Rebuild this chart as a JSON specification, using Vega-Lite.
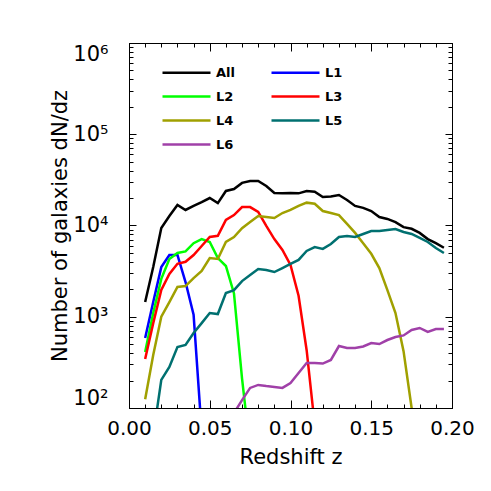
{
  "$schema": "https://vega.github.io/schema/vega-lite/v6.json",
  "width": 323,
  "height": 365,
  "autosize": {"type": "none"},
  "padding": {"left": 129, "top": 43, "right": 39, "bottom": 83},
  "background": "white",
  "config": {
    "view": {"stroke": "black", "strokeWidth": 1},
    "axis": {"grid": false, "domainColor": "black", "tickColor": "black", "labelColor": "black", "titleColor": "black", "labelFont": "DejaVu Sans", "titleFont": "DejaVu Sans", "titleFontWeight": "normal", "tickWidth": 1}
  },
  "datasets": {
    "d": [
      {"s": "All", "z": 0.010, "n": 1450}, {"s": "All", "z": 0.015, "n": 3500}, {"s": "All", "z": 0.020, "n": 9400}, {"s": "All", "z": 0.025, "n": 12700},
      {"s": "All", "z": 0.030, "n": 16800}, {"s": "All", "z": 0.035, "n": 14800}, {"s": "All", "z": 0.040, "n": 16400}, {"s": "All", "z": 0.045, "n": 18000},
      {"s": "All", "z": 0.050, "n": 20000}, {"s": "All", "z": 0.055, "n": 17600}, {"s": "All", "z": 0.060, "n": 23900}, {"s": "All", "z": 0.065, "n": 25100},
      {"s": "All", "z": 0.070, "n": 29300}, {"s": "All", "z": 0.075, "n": 30700}, {"s": "All", "z": 0.080, "n": 30700}, {"s": "All", "z": 0.085, "n": 27100},
      {"s": "All", "z": 0.090, "n": 22700}, {"s": "All", "z": 0.095, "n": 22500}, {"s": "All", "z": 0.100, "n": 22700}, {"s": "All", "z": 0.105, "n": 22500},
      {"s": "All", "z": 0.110, "n": 23900}, {"s": "All", "z": 0.115, "n": 23500}, {"s": "All", "z": 0.120, "n": 20500}, {"s": "All", "z": 0.125, "n": 20800},
      {"s": "All", "z": 0.130, "n": 21600}, {"s": "All", "z": 0.135, "n": 19000}, {"s": "All", "z": 0.140, "n": 16400}, {"s": "All", "z": 0.145, "n": 15600},
      {"s": "All", "z": 0.150, "n": 14400}, {"s": "All", "z": 0.155, "n": 12400}, {"s": "All", "z": 0.160, "n": 11800}, {"s": "All", "z": 0.165, "n": 10900},
      {"s": "All", "z": 0.170, "n": 9600}, {"s": "All", "z": 0.175, "n": 9200}, {"s": "All", "z": 0.180, "n": 8300}, {"s": "All", "z": 0.185, "n": 7100},
      {"s": "All", "z": 0.190, "n": 6400}, {"s": "All", "z": 0.195, "n": 5700},

      {"s": "L1", "z": 0.010, "n": 585}, {"s": "L1", "z": 0.015, "n": 1450}, {"s": "L1", "z": 0.020, "n": 3500}, {"s": "L1", "z": 0.025, "n": 4750},
      {"s": "L1", "z": 0.030, "n": 4750}, {"s": "L1", "z": 0.035, "n": 2400}, {"s": "L1", "z": 0.040, "n": 1050}, {"s": "L1", "z": 0.045, "n": 55},

      {"s": "L2", "z": 0.010, "n": 410}, {"s": "L2", "z": 0.015, "n": 1100}, {"s": "L2", "z": 0.020, "n": 2600}, {"s": "L2", "z": 0.025, "n": 4300},
      {"s": "L2", "z": 0.030, "n": 5000}, {"s": "L2", "z": 0.035, "n": 5200}, {"s": "L2", "z": 0.040, "n": 6400}, {"s": "L2", "z": 0.045, "n": 7100},
      {"s": "L2", "z": 0.050, "n": 6600}, {"s": "L2", "z": 0.055, "n": 4400}, {"s": "L2", "z": 0.060, "n": 3600}, {"s": "L2", "z": 0.065, "n": 1800},
      {"s": "L2", "z": 0.070, "n": 210}, {"s": "L2", "z": 0.075, "n": 35},

      {"s": "L3", "z": 0.010, "n": 344}, {"s": "L3", "z": 0.015, "n": 850}, {"s": "L3", "z": 0.020, "n": 1970}, {"s": "L3", "z": 0.025, "n": 2940},
      {"s": "L3", "z": 0.030, "n": 3800}, {"s": "L3", "z": 0.035, "n": 4000}, {"s": "L3", "z": 0.040, "n": 4750}, {"s": "L3", "z": 0.045, "n": 5960},
      {"s": "L3", "z": 0.050, "n": 7480}, {"s": "L3", "z": 0.055, "n": 7700}, {"s": "L3", "z": 0.060, "n": 11500}, {"s": "L3", "z": 0.065, "n": 13000},
      {"s": "L3", "z": 0.070, "n": 15900}, {"s": "L3", "z": 0.075, "n": 15900}, {"s": "L3", "z": 0.080, "n": 14100}, {"s": "L3", "z": 0.085, "n": 9900},
      {"s": "L3", "z": 0.090, "n": 7100}, {"s": "L3", "z": 0.095, "n": 5400}, {"s": "L3", "z": 0.100, "n": 3700}, {"s": "L3", "z": 0.105, "n": 1700},
      {"s": "L3", "z": 0.110, "n": 430}, {"s": "L3", "z": 0.115, "n": 65},

      {"s": "L4", "z": 0.010, "n": 125}, {"s": "L4", "z": 0.015, "n": 380}, {"s": "L4", "z": 0.020, "n": 1000}, {"s": "L4", "z": 0.025, "n": 1450},
      {"s": "L4", "z": 0.030, "n": 2120}, {"s": "L4", "z": 0.035, "n": 2170}, {"s": "L4", "z": 0.040, "n": 2650}, {"s": "L4", "z": 0.045, "n": 3170},
      {"s": "L4", "z": 0.050, "n": 4400}, {"s": "L4", "z": 0.055, "n": 4300}, {"s": "L4", "z": 0.060, "n": 6600}, {"s": "L4", "z": 0.065, "n": 7480},
      {"s": "L4", "z": 0.070, "n": 9350}, {"s": "L4", "z": 0.075, "n": 10900}, {"s": "L4", "z": 0.080, "n": 12700}, {"s": "L4", "z": 0.085, "n": 12400},
      {"s": "L4", "z": 0.090, "n": 12100}, {"s": "L4", "z": 0.095, "n": 13700}, {"s": "L4", "z": 0.100, "n": 14800}, {"s": "L4", "z": 0.105, "n": 16400},
      {"s": "L4", "z": 0.110, "n": 17800}, {"s": "L4", "z": 0.115, "n": 17300}, {"s": "L4", "z": 0.120, "n": 14400}, {"s": "L4", "z": 0.125, "n": 13700},
      {"s": "L4", "z": 0.130, "n": 13000}, {"s": "L4", "z": 0.135, "n": 10400}, {"s": "L4", "z": 0.140, "n": 8300}, {"s": "L4", "z": 0.145, "n": 6400},
      {"s": "L4", "z": 0.150, "n": 4900}, {"s": "L4", "z": 0.155, "n": 3420}, {"s": "L4", "z": 0.160, "n": 1960}, {"s": "L4", "z": 0.165, "n": 1100},
      {"s": "L4", "z": 0.170, "n": 420}, {"s": "L4", "z": 0.175, "n": 100}, {"s": "L4", "z": 0.180, "n": 20},

      {"s": "L5", "z": 0.015, "n": 50}, {"s": "L5", "z": 0.020, "n": 203}, {"s": "L5", "z": 0.025, "n": 282}, {"s": "L5", "z": 0.030, "n": 466},
      {"s": "L5", "z": 0.035, "n": 490}, {"s": "L5", "z": 0.040, "n": 663}, {"s": "L5", "z": 0.045, "n": 852}, {"s": "L5", "z": 0.050, "n": 1100},
      {"s": "L5", "z": 0.055, "n": 1070}, {"s": "L5", "z": 0.060, "n": 1820}, {"s": "L5", "z": 0.065, "n": 1960}, {"s": "L5", "z": 0.070, "n": 2460},
      {"s": "L5", "z": 0.075, "n": 2860}, {"s": "L5", "z": 0.080, "n": 3330}, {"s": "L5", "z": 0.085, "n": 3250}, {"s": "L5", "z": 0.090, "n": 3090},
      {"s": "L5", "z": 0.095, "n": 3420}, {"s": "L5", "z": 0.100, "n": 3790}, {"s": "L5", "z": 0.105, "n": 4200}, {"s": "L5", "z": 0.110, "n": 5260},
      {"s": "L5", "z": 0.115, "n": 5800}, {"s": "L5", "z": 0.120, "n": 5540}, {"s": "L5", "z": 0.125, "n": 6260}, {"s": "L5", "z": 0.130, "n": 7480},
      {"s": "L5", "z": 0.135, "n": 7670}, {"s": "L5", "z": 0.140, "n": 7480}, {"s": "L5", "z": 0.145, "n": 8070}, {"s": "L5", "z": 0.150, "n": 8700},
      {"s": "L5", "z": 0.155, "n": 8700}, {"s": "L5", "z": 0.160, "n": 8930}, {"s": "L5", "z": 0.165, "n": 9150}, {"s": "L5", "z": 0.170, "n": 8480},
      {"s": "L5", "z": 0.175, "n": 8070}, {"s": "L5", "z": 0.180, "n": 7300}, {"s": "L5", "z": 0.185, "n": 6600}, {"s": "L5", "z": 0.190, "n": 5670},
      {"s": "L5", "z": 0.195, "n": 5000},

      {"s": "L6", "z": 0.065, "n": 88}, {"s": "L6", "z": 0.070, "n": 122}, {"s": "L6", "z": 0.075, "n": 166}, {"s": "L6", "z": 0.080, "n": 179},
      {"s": "L6", "z": 0.085, "n": 174}, {"s": "L6", "z": 0.090, "n": 170}, {"s": "L6", "z": 0.095, "n": 166}, {"s": "L6", "z": 0.100, "n": 188},
      {"s": "L6", "z": 0.105, "n": 242}, {"s": "L6", "z": 0.110, "n": 311}, {"s": "L6", "z": 0.115, "n": 311}, {"s": "L6", "z": 0.120, "n": 307},
      {"s": "L6", "z": 0.125, "n": 336}, {"s": "L6", "z": 0.130, "n": 478}, {"s": "L6", "z": 0.135, "n": 455}, {"s": "L6", "z": 0.140, "n": 455},
      {"s": "L6", "z": 0.145, "n": 472}, {"s": "L6", "z": 0.150, "n": 515}, {"s": "L6", "z": 0.155, "n": 502}, {"s": "L6", "z": 0.160, "n": 556},
      {"s": "L6", "z": 0.165, "n": 600}, {"s": "L6", "z": 0.170, "n": 624}, {"s": "L6", "z": 0.175, "n": 716}, {"s": "L6", "z": 0.180, "n": 753},
      {"s": "L6", "z": 0.185, "n": 681}, {"s": "L6", "z": 0.190, "n": 733}, {"s": "L6", "z": 0.195, "n": 733}
    ]
  },
  "layer": [
    {
      "data": {"name": "d"},
      "mark": {"type": "line", "strokeWidth": 2.5, "clip": true},
      "encoding": {
        "x": {
          "field": "z", "type": "quantitative",
          "scale": {"domain": [0, 0.2], "nice": false, "zero": false},
          "axis": {"orient": "bottom", "values": [0, 0.05, 0.1, 0.15, 0.2], "format": ".2f", "tickSize": -8, "labelPadding": 18, "labelFontSize": 20, "labelFlush": false, "title": "Redshift  z", "titleFontSize": 21, "titlePadding": 8}
        },
        "y": {
          "field": "n", "type": "quantitative",
          "scale": {"type": "log", "domain": [100, 1000000], "nice": false},
          "axis": {"orient": "left", "values": [100, 1000, 10000, 100000, 1000000], "labelExpr": "'10' + ['⁰','¹','²','³','⁴','⁵','⁶'][round(log(datum.value)/LN10)]", "tickSize": -7, "labelPadding": 28, "labelFontSize": 21, "labelFlush": true, "title": "Number  of  galaxies  dN/dz", "titleFontSize": 21, "titlePadding": 2}
        },
        "color": {
          "field": "s", "type": "nominal",
          "scale": {"domain": ["All", "L1", "L2", "L3", "L4", "L5", "L6"], "range": ["#000000", "#0000ff", "#00ff00", "#ff0000", "#a0a000", "#007070", "#a040a8"]},
          "legend": {"orient": "none", "legendX": 48, "legendY": 20, "columns": 2, "direction": "horizontal", "title": null, "symbolType": "M-3,0H3", "symbolSize": 256, "symbolStrokeWidth": 2.5, "symbolFillColor": "transparent", "labelFont": "DejaVu Sans", "labelFontSize": 13, "labelFontWeight": "bold", "labelColor": "black", "labelOffset": 20, "columnPadding": 31, "rowPadding": 7, "padding": 0}
        }
      }
    },
    {
      "data": {"name": "d"},
      "mark": {"type": "line", "strokeOpacity": 0, "clip": true},
      "encoding": {
        "x": {"field": "z", "type": "quantitative", "axis": {"orient": "bottom", "values": [0.01, 0.02, 0.03, 0.04, 0.06, 0.07, 0.08, 0.09, 0.11, 0.12, 0.13, 0.14, 0.16, 0.17, 0.18, 0.19], "tickSize": -4, "labels": false, "domain": false, "title": null}},
        "y": {"field": "n", "type": "quantitative", "axis": {"orient": "left", "values": [200, 300, 400, 500, 600, 700, 800, 900, 2000, 3000, 4000, 5000, 6000, 7000, 8000, 9000, 20000, 30000, 40000, 50000, 60000, 70000, 80000, 90000, 200000, 300000, 400000, 500000, 600000, 700000, 800000, 900000], "tickSize": -4, "labels": false, "domain": false, "title": null}},
        "detail": {"field": "s"}
      }
    },
    {
      "data": {"name": "d"},
      "mark": {"type": "line", "strokeOpacity": 0, "clip": true},
      "encoding": {
        "x": {"field": "z", "type": "quantitative", "axis": {"orient": "top", "values": [0, 0.05, 0.1, 0.15, 0.2], "tickSize": -8, "labels": false, "title": null}},
        "y": {"field": "n", "type": "quantitative", "axis": {"orient": "right", "values": [100, 1000, 10000, 100000, 1000000], "tickSize": -7, "labels": false, "title": null}},
        "detail": {"field": "s"}
      }
    },
    {
      "data": {"name": "d"},
      "mark": {"type": "line", "strokeOpacity": 0, "clip": true},
      "encoding": {
        "x": {"field": "z", "type": "quantitative", "axis": {"orient": "top", "values": [0.01, 0.02, 0.03, 0.04, 0.06, 0.07, 0.08, 0.09, 0.11, 0.12, 0.13, 0.14, 0.16, 0.17, 0.18, 0.19], "tickSize": -4, "labels": false, "domain": false, "title": null}},
        "y": {"field": "n", "type": "quantitative", "axis": {"orient": "right", "values": [200, 300, 400, 500, 600, 700, 800, 900, 2000, 3000, 4000, 5000, 6000, 7000, 8000, 9000, 20000, 30000, 40000, 50000, 60000, 70000, 80000, 90000, 200000, 300000, 400000, 500000, 600000, 700000, 800000, 900000], "tickSize": -4, "labels": false, "domain": false, "title": null}},
        "detail": {"field": "s"}
      }
    }
  ],
  "resolve": {"axis": {"x": "independent", "y": "independent"}}
}
